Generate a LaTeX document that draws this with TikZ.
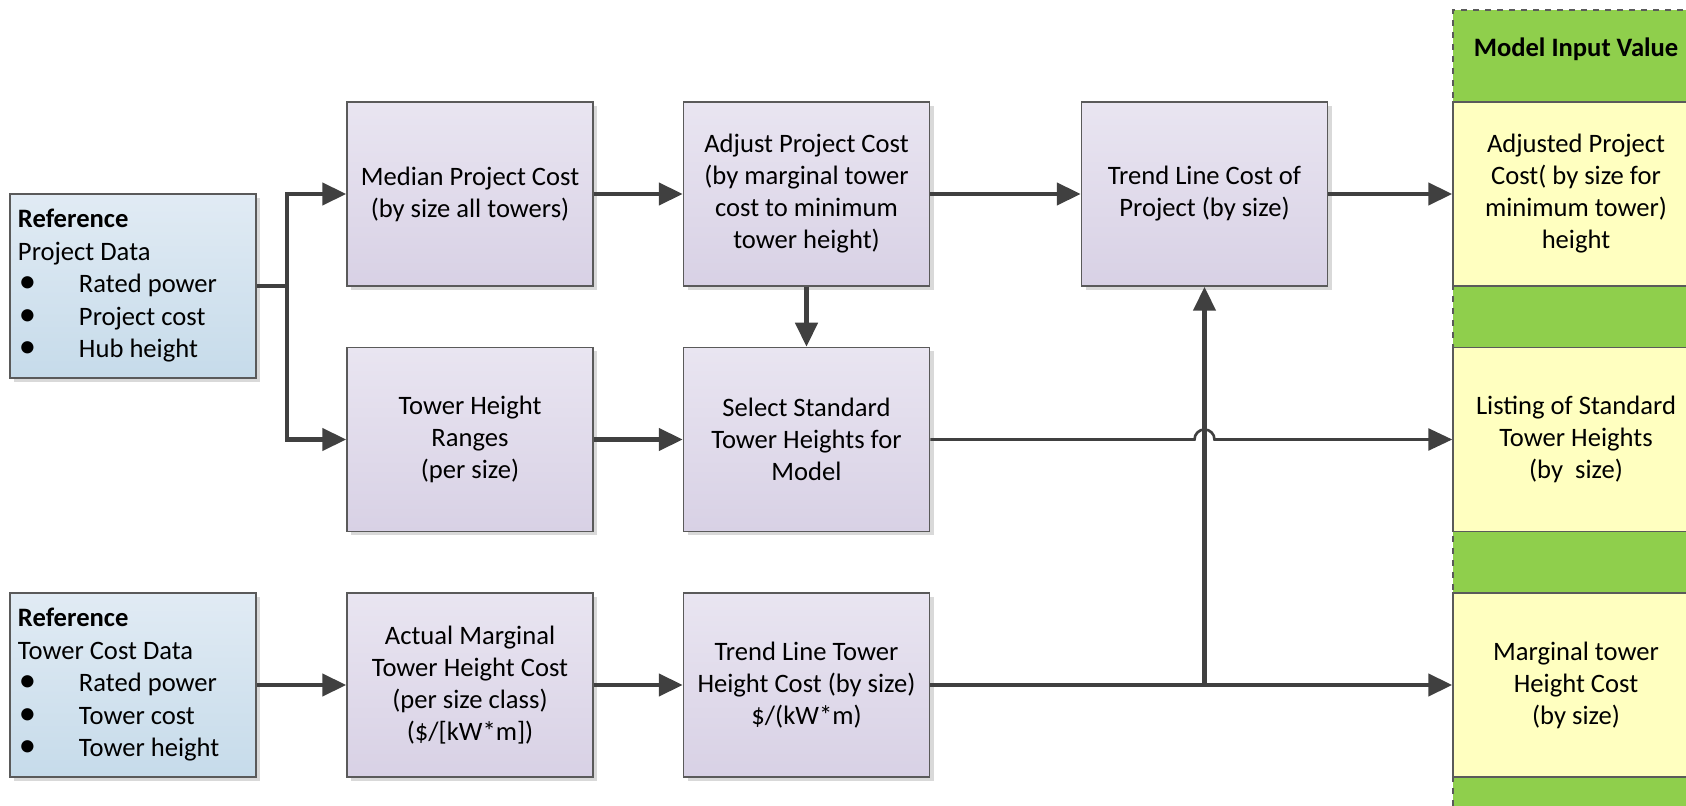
\documentclass[tikz,border=0pt]{standalone}
\usepackage{fontspec}
\setmainfont{Carlito}
\usetikzlibrary{arrows.meta,shadows}
\definecolor{arrowc}{HTML}{404040}
\definecolor{bordc}{HTML}{5A5A5A}
\definecolor{purtop}{HTML}{E9E5F1}
\definecolor{purbot}{HTML}{D8D1E5}
\definecolor{blutop}{HTML}{E1EBF4}
\definecolor{blubot}{HTML}{C6DBEA}
\definecolor{yel}{HTML}{FFFFC0}
\definecolor{grn}{HTML}{8FCF4C}
\newcommand\bul{\makebox[30.5pt][l]{\hspace{0.5pt}\scalebox{1.3}{\textbullet}}}
\tikzset{
  basebox/.style={draw=bordc, line width=0.75pt, inner sep=0pt,
    minimum width=123pt, minimum height=92pt,
    font=\fontsize{13.3}{16}\selectfont},
  procbox/.style={basebox, align=flush center, top color=purtop, bottom color=purbot,
    drop shadow={shadow xshift=2pt, shadow yshift=-2pt, fill=black!15, opacity=1}},
  refbox/.style={basebox, align=flush left, text width=115pt, inner xsep=4pt,
    font=\fontsize{13.3}{16.25}\selectfont,
    top color=blutop, bottom color=blubot,
    drop shadow={shadow xshift=2pt, shadow yshift=-2pt, fill=black!15, opacity=1}},
  outbox/.style={basebox, align=flush center, fill=yel},
  conn/.style={draw=arrowc, line width=2.2pt},
  arr/.style={conn, -{Triangle[length=12pt,width=11pt]}},
  thinarr/.style={draw=arrowc, line width=1.3pt, -{Triangle[length=12pt,width=11pt]}}
}
\begin{document}
\begin{tikzpicture}[x=0.5pt, y=-0.5pt]
\useasboundingbox (0,0) rectangle (1686,806);
\clip (0,0) rectangle (1686,806);
\fill[white] (0,0) rectangle (1686,806);
% right column
\fill[grn] (1453,10) rectangle (1710,830);
\draw[bordc, dashed, line width=0.75pt] (1453,830) -- (1453,10) -- (1710,10);
\node[anchor=base, font=\fontsize{13.3}{16}\selectfont\bfseries] (hdr) at (1576,57) {Model Input Value};
\node[outbox] (out1) at (1576,194) {Adjusted Project\\Cost( by size for\\minimum tower)\\height};
\node[outbox] (out2) at (1576,439.5) {Listing of Standard\\Tower Heights\\(by\ \ size)};
\node[outbox] (out3) at (1576,685) {Marginal tower\\Height Cost\\(by size)};
% reference boxes
\node[refbox] (ref1) at (133,286) {\textbf{Reference}\\Project Data\\\bul Rated power\\\bul Project cost\\\bul Hub height};
\node[refbox] (ref2) at (133,685) {\textbf{Reference}\\Tower Cost Data\\\bul Rated power\\\bul Tower cost\\\bul Tower height};
% process boxes
\node[procbox] (med) at (470,194) {Median Project Cost\\(by size all towers)};
\node[procbox] (adj) at (806.5,194) {Adjust Project Cost\\(by marginal tower\\cost to minimum\\tower height)};
\node[procbox] (tlc) at (1204.5,194) {Trend Line Cost of\\Project (by size)};
\node[procbox] (thr) at (470,439.5) {Tower Height\\Ranges\\(per size)};
\node[procbox] (sel) at (806.5,439.5) {Select Standard\\Tower Heights for\\Model};
\node[procbox] (amc) at (470,685) {Actual Marginal\\Tower Height Cost\\(per size class)\\(\$/[kW*m])};
\node[procbox] (tlt) at (806.5,685) {Trend Line Tower\\Height Cost (by size)\\\$/(kW*m)};
% connectors
\coordinate (split) at (287,286);
\draw[conn] (ref1.east) -- (split);
\draw[arr] (split) |- (med.west);
\draw[arr] (split) |- (thr.west);
\draw[arr] (med.east) -- (adj.west);
\draw[arr] (adj.east) -- (tlc.west);
\draw[arr] (tlc.east) -- (out1.west);
\draw[arr] (adj.south) -- (sel.north);
\draw[arr] (thr.east) -- (sel.west);
\draw[arr] (ref2.east) -- (amc.west);
\draw[arr] (amc.east) -- (tlt.west);
\draw[arr] (tlt.east) -- (out3.west);
\path (tlc.south |- tlt.east) coordinate (jb);
\draw[arr] (jb) -- (tlc.south);
\path (tlc.south |- sel.east) coordinate (jc);
\coordinate (jl) at ([xshift=-5pt]jc);
\draw[thinarr] (sel.east) -- (jl) arc[start angle=180, end angle=0, radius=5pt] -- (out2.west);
\end{tikzpicture}
\end{document}
